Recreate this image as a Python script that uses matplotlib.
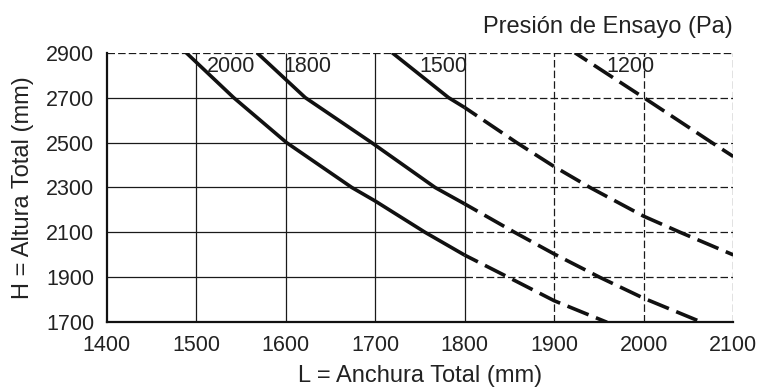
import matplotlib
matplotlib.use("Agg")
import matplotlib.pyplot as plt

plt.rcParams['font.family'] = ['Liberation Sans', 'DejaVu Sans']

# ---- data ----
pressures = ["2000", "1800", "1500", "1200"]

L_2000 = [1489, 1542, 1601, 1674, 1700, 1756, 1800, 1849, 1900, 1959]
H_2000 = [2900, 2700, 2500, 2300, 2240, 2100, 1999, 1900, 1796, 1700]

L_1800 = [1568, 1622, 1696, 1767, 1800, 1856, 1900, 1951, 2000, 2065]
H_1800 = [2900, 2700, 2500, 2300, 2227, 2100, 2004, 1900, 1807, 1700]

L_1500 = [1719, 1782, 1800, 1858, 1900, 1940, 2000, 2041, 2100]
H_1500 = [2900, 2700, 2656, 2500, 2393, 2300, 2172, 2100, 2000]

L_1200 = [1923, 2000, 2076, 2100]
H_1200 = [2900, 2700, 2500, 2438]

label_L = [1512, 1598, 1749, 1958]
label_H = [2838, 2838, 2838, 2838]

x_ticks = [1400, 1500, 1600, 1700, 1800, 1900, 2000, 2100]
y_ticks = [1700, 1900, 2100, 2300, 2500, 2700, 2900]
split = 1800  # solid up to here, dashed beyond

curves = [(L_2000, H_2000), (L_1800, H_1800), (L_1500, H_1500), (L_1200, H_1200)]

W, Hpx = 759, 387
fig = plt.figure(figsize=(W / 100, Hpx / 100), dpi=100)
ax = fig.add_axes([106.5 / W, 1 - 322.3 / Hpx, (733.3 - 106.5) / W, (322.3 - 52.7) / Hpx])
xmin, xmax = x_ticks[0], x_ticks[-1]
ymin, ymax = y_ticks[0], y_ticks[-1]
ax.set_xlim(xmin, xmax)
ax.set_ylim(ymin, ymax)

grid_col = '#1a1a1a'
dash_grid = (0, (6, 2.5))
# horizontal grid lines
for y in y_ticks[1:]:
    if y == ymax:
        ax.hlines(y, xmin, xmax, color=grid_col, lw=0.9, linestyle=dash_grid, zorder=1)
    else:
        ax.hlines(y, xmin, split, color=grid_col, lw=0.9, zorder=1)
        ax.hlines(y, split, xmax, color=grid_col, lw=0.9, linestyle=dash_grid, zorder=1)
# vertical grid lines
for x in x_ticks[1:]:
    if x <= split:
        ax.vlines(x, ymin, ymax, color=grid_col, lw=0.9, zorder=1)
    else:
        ax.vlines(x, ymin, ymax, color=grid_col, lw=0.9, linestyle=dash_grid, zorder=1)

# curves
for L, H in curves:
    sL = [l for l in L if l <= split]
    sH = [h for l, h in zip(L, H) if l <= split]
    dL = [l for l in L if l >= split]
    dH = [h for l, h in zip(L, H) if l >= split]
    if len(sL) > 1:
        ax.plot(sL, sH, color='#111111', lw=2.6, solid_capstyle='butt',
                solid_joinstyle='round', zorder=3)
    if len(dL) > 1:
        ax.plot(dL, dH, color='#111111', lw=2.6, linestyle=(2.2, (6.3, 2.2)),
                dash_capstyle='butt', zorder=3)

num_size = 15.5
for txt, lx, ly in zip(pressures, label_L, label_H):
    ax.text(lx, ly, txt, ha='left', va='center', fontsize=num_size, color='#222222', zorder=4)

ax.set_xticks(x_ticks)
ax.set_yticks(y_ticks)
ax.tick_params(length=0, pad=9, labelsize=num_size, colors='#222222')

for s in ['top', 'right']:
    ax.spines[s].set_visible(False)
for s in ['left', 'bottom']:
    ax.spines[s].set_linewidth(1.6)
    ax.spines[s].set_color('#111111')
    ax.spines[s].set_zorder(5)

title_size = 17
fig.text(420 / W, 1 - 382 / Hpx, "L = Anchura Total (mm)",
         ha='center', va='baseline', fontsize=title_size, color='#222222')
fig.text(23 / W, 1 - 187.5 / Hpx, "H = Altura Total (mm)",
         rotation=90, ha='center', va='center', fontsize=title_size, color='#222222')
fig.text(733 / W, 1 - 33 / Hpx, "Presión de Ensayo (Pa)",
         ha='right', va='baseline', fontsize=title_size, color='#222222')

fig.savefig("out.png", dpi=100)
